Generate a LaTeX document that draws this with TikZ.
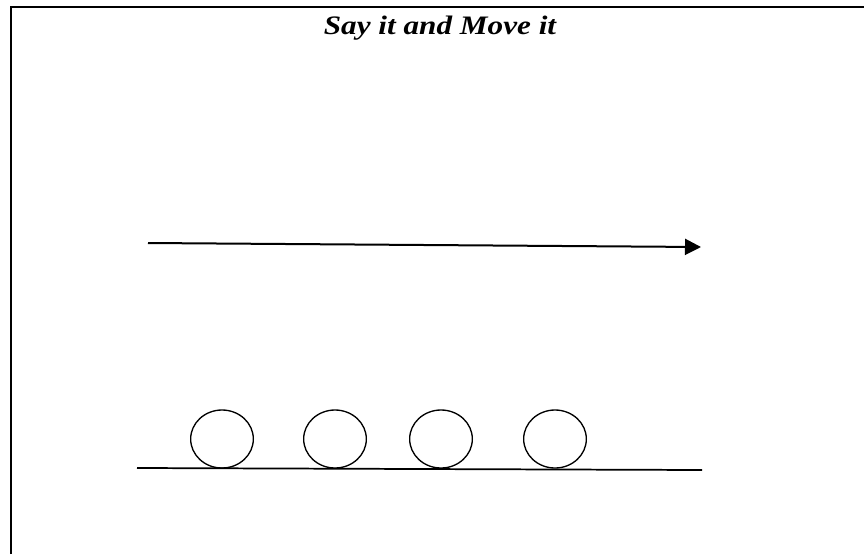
\documentclass[tikz,border=0pt]{standalone}
\usepackage{fontspec}
\setmainfont{Liberation Serif}
\usetikzlibrary{shapes.geometric,arrows.meta}

\begin{document}
\begin{tikzpicture}[x=0.75pt,y=-0.75pt,
	ball/.style={draw,ellipse,line width=1pt,minimum width=47pt,minimum height=43.5pt,inner sep=0pt}]
		
		\useasboundingbox (0,0) rectangle (864,554);
		
		\coordinate (f1) at ( 11,554);
		\coordinate (f2) at ( 11,  7);
		\coordinate (f3) at (864,  7);
		\draw[line width=1.5pt] (f1) -- (f2) -- (f3);
		
		\node[font=\bfseries\itshape\fontsize{20}{24}\selectfont,anchor=base,xscale=1.17] (title) at (440,34) {Say it and Move it};
		
		\coordinate (a1) at (148,243);
		\coordinate (a2) at (701,247);
		\draw[-{Triangle[length=12pt,width=12pt]},line width=1.5pt] (a1) to (a2);
		
		\node[ball] (b1) at (222,439) {};
		\node[ball] (b2) at (335,439) {};
		\node[ball] (b3) at (441,439) {};
		\node[ball] (b4) at (555,439) {};
		
		\coordinate (g1) at (137,468);
		\coordinate (g2) at (702,470);
		\draw[line width=1.3pt] (g1) to (g2);
		
	\end{tikzpicture}
\end{document}
